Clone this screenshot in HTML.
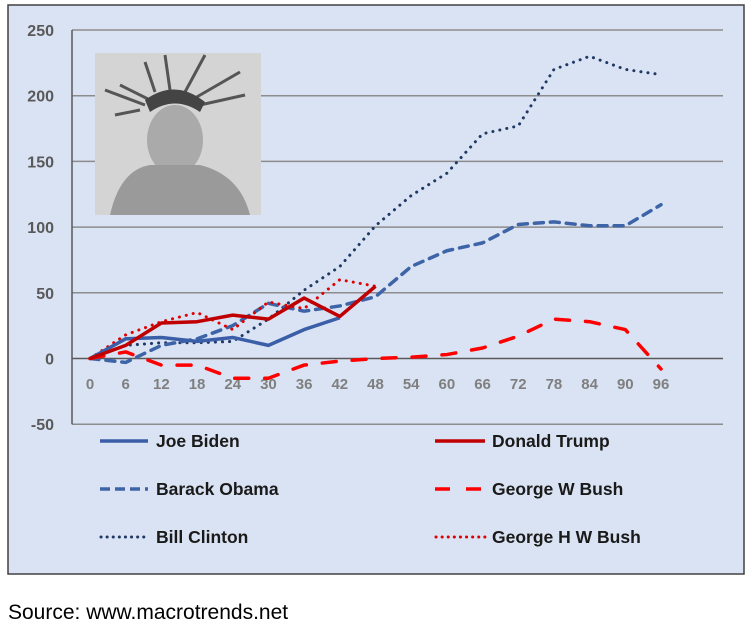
<!DOCTYPE html>
<html><head><meta charset="utf-8"><style>
body{margin:0;width:754px;height:638px;background:#fff;overflow:hidden;font-family:"Liberation Sans",sans-serif}
</style></head><body>
<svg width="754" height="638" xmlns="http://www.w3.org/2000/svg">
<rect x="8" y="5" width="736" height="569" fill="#dae3f3" stroke="#404040" stroke-width="1.5"/>
<g id="grid"></g>
<g id="ylab" font-family="Liberation Sans, sans-serif" font-weight="bold" font-size="16" fill="#595959" text-anchor="end"></g>
<g id="xlab" font-family="Liberation Sans, sans-serif" font-weight="bold" font-size="15" fill="#7f7f7f" text-anchor="middle"></g>
<g>
<rect x="95" y="53" width="166" height="162" fill="#d4d4d4"/>
<path d="M150 100 L120 85 M155 92 L145 62 M170 90 L165 55 M185 92 L205 55 M195 98 L240 72 M200 105 L245 95 M145 105 L105 90 M140 110 L115 115" stroke="#555" stroke-width="3"/>
<path d="M145 100 Q175 78 205 102 L200 112 Q175 95 150 112 Z" fill="#444"/>
<ellipse cx="175" cy="140" rx="28" ry="35" fill="#aaa"/>
<path d="M110 215 Q120 170 150 165 L200 165 Q240 175 250 215 Z" fill="#9a9a9a"/>
</g>
<g id="series"></g>
<g font-family="Liberation Sans, sans-serif" font-weight="bold" font-size="17.5" fill="#1a1a1a">
<g><line x1="100" y1="441" x2="148" y2="441" stroke="#3a5ea8" stroke-width="3.5"/><text x="156" y="447">Joe Biden</text></g>
<g><line x1="435" y1="441" x2="485" y2="441" stroke="#c00000" stroke-width="3.5"/><text x="492" y="447">Donald Trump</text></g>
<g><line x1="100" y1="489" x2="148" y2="489" stroke="#3e64a8" stroke-width="3.5" stroke-dasharray="10 5"/><text x="156" y="495">Barack Obama</text></g>
<g><line x1="435" y1="489" x2="485" y2="489" stroke="#ff0000" stroke-width="3.5" stroke-dasharray="15 16"/><text x="492" y="495">George W Bush</text></g>
<g><line x1="101" y1="537" x2="148" y2="537" stroke="#203864" stroke-width="3" stroke-dasharray="0.1 6" stroke-linecap="round"/><text x="156" y="543">Bill Clinton</text></g>
<g><line x1="436" y1="537" x2="485" y2="537" stroke="#e00000" stroke-width="3" stroke-dasharray="0.1 6" stroke-linecap="round"/><text x="492" y="543">George H W Bush</text></g>
</g>
<text x="8" y="619" font-family="Liberation Sans, sans-serif" font-size="21" fill="#000">Source: www.macrotrends.net</text>
</svg>
<script>
const months=[0,6,12,18,24,30,36,42,48,54,60,66,72,78,84,90,96];
const yTicks=[250,200,150,100,50,0,-50];
const biden=[0,15,16,13,16,10,22,31];
const trump=[0,10,27,28,33,30,46,32,55];
const obama=[0,-3,10,15,25,42,36,40,47,70,82,88,102,104,101,101,117];
const gwbush=[0,5,-5,-5,-15,-15,-5,-2,0,1,3,8,17,30,28,22,-8];
const clinton=[0,10,12,12,13,30,52,70,101,124,141,171,177,220,230,220,216];
const ghwbush=[0,18,28,35,22,43,38,60,55];
const NS="http://www.w3.org/2000/svg";
function xs(m){return 90+m*(571/96);}
function ys(v){return 358.5-v*(65.7/50);}
const grid=document.getElementById('grid');
yTicks.forEach(t=>{
 const l=document.createElementNS(NS,'line');
 l.setAttribute('x1',72);l.setAttribute('x2',723);l.setAttribute('y1',ys(t));l.setAttribute('y2',ys(t));
 l.setAttribute('stroke',t===0?'#595959':'#8c8c8c');l.setAttribute('stroke-width',1.5);
 
 
 grid.appendChild(l);
 const tx=document.createElementNS(NS,'text');
 tx.setAttribute('x',54);tx.setAttribute('y',ys(t)+6);tx.textContent=t;
 
 
 document.getElementById('ylab').appendChild(tx);
});
const ax=document.createElementNS(NS,'line');
ax.setAttribute('x1',72);ax.setAttribute('x2',72);ax.setAttribute('y1',ys(250));ax.setAttribute('y2',ys(-50));
ax.setAttribute('stroke','#595959');ax.setAttribute('stroke-width',1.5);


grid.appendChild(ax);
months.forEach(m=>{
 const tx=document.createElementNS(NS,'text');
 tx.setAttribute('x',xs(m));tx.setAttribute('y',389);tx.textContent=m;
 
 
 document.getElementById('xlab').appendChild(tx);
});
function draw(vals,name,color,w,dash){
 const p=document.createElementNS(NS,'polyline');
 p.setAttribute('points',vals.map((v,i)=>xs(months[i])+','+ys(v)).join(' '));
 p.setAttribute('fill','none');p.setAttribute('stroke',color);p.setAttribute('stroke-width',w);
 p.setAttribute('stroke-linejoin','round');
 if(dash){p.setAttribute('stroke-dasharray',dash);p.setAttribute('stroke-linecap','round');}
 
 
 document.getElementById('series').appendChild(p);
}
draw(clinton,'line-bill-clinton','#203864',3,'0.1 7');
draw(obama,'line-barack-obama','#3e64a8',3.5,'9 7');
draw(gwbush,'line-george-w-bush','#ff0000',3.5,'14 16');
draw(ghwbush,'line-george-h-w-bush','#e00000',3,'0.1 7');
draw(biden,'line-joe-biden','#3a5ea8',3.5,null);
draw(trump,'line-donald-trump','#c00000',3.5,null);
</script>
</body></html>
